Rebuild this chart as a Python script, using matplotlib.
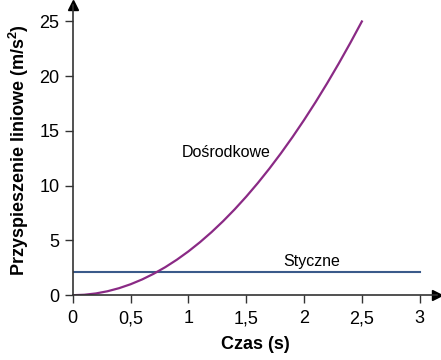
import matplotlib
matplotlib.use("Agg")
import matplotlib.pyplot as plt

plt.rcParams["font.family"] = ["Liberation Sans", "DejaVu Sans"]

# values
t_centr = [0.0, 0.1, 0.2, 0.3, 0.4, 0.5, 0.6, 0.7, 0.8, 0.9, 1.0, 1.1, 1.2,
           1.3, 1.4, 1.5, 1.6, 1.7, 1.8, 1.9, 2.0, 2.1, 2.2, 2.3, 2.4, 2.5]
a_centr = [0.0, 0.04, 0.16, 0.36, 0.64, 1.0, 1.44, 1.96, 2.56, 3.24, 4.0,
           4.84, 5.76, 6.76, 7.84, 9.0, 10.24, 11.56, 12.96, 14.44, 16.0,
           17.64, 19.36, 21.16, 23.04, 25.0]
t_tang = [0.0, 3.0]
a_tang = [2.1, 2.1]

x_ticks = [0, 0.5, 1, 1.5, 2, 2.5, 3]
x_labels = ["0", "0,5", "1", "1,5", "2", "2,5", "3"]
y_ticks = [0, 5, 10, 15, 20, 25]

fig = plt.figure(figsize=(4.41, 3.6), dpi=100)
ax = fig.add_axes([0.165, 0.18, 0.826, 0.806])

ax.plot(t_tang, a_tang, color="#3a5a8a", linewidth=1.5)
ax.plot(t_centr, a_centr, color="#8a2a85", linewidth=1.6)

ax.text(1.33, 13.0, "Dośrodkowe", fontsize=11.5, ha="center", va="center")
ax.text(2.07, 3.1, "Styczne", fontsize=11.5, ha="center", va="center")

ax.set_xlim(0, 3.15)
ax.set_ylim(0, 26.5)
ax.set_xticks(x_ticks)
ax.set_xticklabels(x_labels)
ax.set_yticks(y_ticks)
ax.tick_params(labelsize=13, length=6, width=1, color="#333333")
ax.tick_params(axis="x", pad=5)

for side in ("top", "right"):
    ax.spines[side].set_visible(False)
for side in ("left", "bottom"):
    ax.spines[side].set_color("#333333")
    ax.spines[side].set_linewidth(1.2)

# arrow heads at the axis ends
ax.plot(1, 0, ">k", markersize=7, transform=ax.transAxes, clip_on=False)
ax.plot(0, 1, "^k", markersize=7, transform=ax.transAxes, clip_on=False)

ax.set_xlabel("Czas (s)", fontsize=13, fontweight="bold", labelpad=6)
ax.set_ylabel("Przyspieszenie liniowe (m/s$^\\mathregular{2}$)", fontsize=13,
              fontweight="bold", labelpad=6)

fig.savefig("out.png", dpi=100)
